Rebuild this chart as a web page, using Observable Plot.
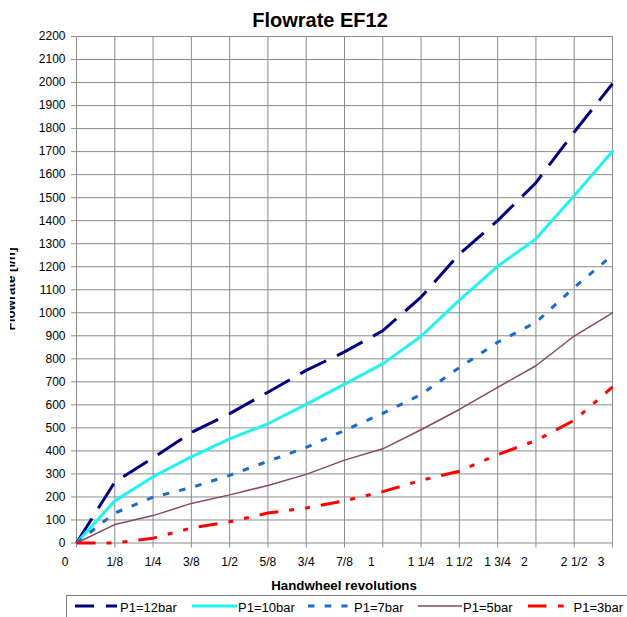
<!DOCTYPE html>
<html>
<head>
<meta charset="utf-8">
<script src="https://cdn.jsdelivr.net/npm/d3@7"></script>
<script src="https://cdn.jsdelivr.net/npm/@observablehq/plot@0.6"></script>
<style>
  html, body { margin: 0; padding: 0; background: #fff; }
  #chart { position: relative; width: 627px; height: 617px; overflow: hidden; font-family: "Liberation Sans", Arial, sans-serif; }
  #legend { display: block; }
</style>
</head>
<body>
<div id="chart"></div>
<script>
// ---- data ----
const xLabels = ["0", "1/8", "1/4", "3/8", "1/2", "5/8", "3/4", "7/8", "1", "1 1/4", "1 1/2", "1 3/4", "2", "2 1/2", "3"];
const yTicks = [0, 100, 200, 300, 400, 500, 600, 700, 800, 900, 1000, 1100, 1200, 1300, 1400, 1500, 1600, 1700, 1800, 1900, 2000, 2100, 2200];
const seriesNames = ["P1=12bar", "P1=10bar", "P1=7bar", "P1=5bar", "P1=3bar"];
const p12 = [0, 265, 370, 480, 562, 655, 750, 830, 922, 1068, 1255, 1400, 1565, 1785, 1995];
const p10 = [0, 183, 288, 374, 452, 518, 602, 690, 778, 898, 1055, 1202, 1321, 1508, 1702];
const p7  = [0, 130, 199, 241, 294, 355, 415, 489, 563, 645, 762, 872, 958, 1110, 1250];
const p5  = [0, 80, 119, 172, 209, 250, 298, 360, 409, 492, 580, 676, 770, 899, 1000];
const p3  = [0, 0, 21, 65, 92, 130, 152, 183, 223, 272, 312, 384, 445, 533, 678];

const seriesValues = [p12, p10, p7, p5, p3];
const styles = [
  {stroke: "#000080", strokeWidth: 3, strokeDasharray: "29,12", strokeLinecap: "butt", legendDash: "19,12"},
  {stroke: "#22f2f2", strokeWidth: 3, strokeDasharray: null, strokeLinecap: "round", legendDash: null},
  {stroke: "#1a6ccc", strokeWidth: 3, strokeDasharray: "6.5,10.2", strokeLinecap: "butt", legendDash: "6.5,10.2"},
  {stroke: "#8a4668", strokeWidth: 1.5, strokeDasharray: null, strokeLinecap: "round", legendDash: null},
  {stroke: "#ff0000", strokeWidth: 3, strokeDasharray: "19,11,5,11,5,11", strokeLinecap: "butt", legendDash: "18.5,11.5,5.7,20"}
];

const xIdx = xLabels.map((_, i) => i);
const wholeIdx = xIdx.filter(i => !xLabels[i].includes("/"));
const fracIdx = xIdx.filter(i => xLabels[i].includes("/"));
const gridColor = "#8c8c8c";

const lineMarks = seriesValues.map((vals, k) => Plot.line(xIdx, {
  x: i => i,
  y: i => vals[i],
  stroke: styles[k].stroke,
  strokeWidth: styles[k].strokeWidth,
  strokeDasharray: styles[k].strokeDasharray,
  strokeLinecap: styles[k].strokeLinecap,
  strokeLinejoin: "round"
}));

const plot = Plot.plot({
  width: 627,
  height: 595,
  marginLeft: 76,
  marginRight: 15,
  marginTop: 36,
  marginBottom: 52.5,
  style: {fontFamily: "'Liberation Sans', Arial, sans-serif", background: "#fff", color: "#000", overflow: "hidden"},
  x: {type: "linear", domain: [0, xLabels.length - 1], axis: null},
  y: {domain: [0, 2200], axis: null},
  marks: [
    Plot.ruleY(yTicks, {y: d => d, stroke: gridColor, strokeWidth: 1}),
    Plot.ruleX(xIdx, {x: d => d, stroke: gridColor, strokeWidth: 1}),
    Plot.axisY({ticks: yTicks, tickSize: 5, tickPadding: 6, tickFormat: d => String(d), fontSize: 12, stroke: gridColor, label: null}),
    Plot.axisX({ticks: xIdx, tickSize: 5, tickFormat: () => "", stroke: gridColor, label: null}),
    Plot.text(fracIdx, {x: d => d, text: d => xLabels[d], frameAnchor: "bottom", lineAnchor: "top", dy: 14.5, fontSize: 12, fill: "#000"}),
    Plot.text(wholeIdx, {x: d => d, text: d => xLabels[d], frameAnchor: "bottom", lineAnchor: "top", dy: 14.5, dx: -11.5, fontSize: 12, fill: "#000"}),
    ...lineMarks
  ]
});

const svg = d3.select(plot);
svg.append("text")
  .attr("x", 320).attr("y", 27)
  .attr("text-anchor", "middle")
  .attr("font-size", 20).attr("font-weight", "bold").attr("fill", "#000")
  .text("Flowrate EF12");
svg.append("text")
  .attr("x", 344).attr("y", 590)
  .attr("text-anchor", "middle")
  .attr("font-size", 13.3).attr("font-weight", "bold").attr("fill", "#000")
  .text("Handwheel revolutions");
const defs = svg.append("defs");
defs.append("clipPath").attr("id", "ylabclip")
  .append("rect").attr("x", 10).attr("y", 0).attr("width", 40).attr("height", 595);
svg.append("g").attr("clip-path", "url(#ylabclip)")
  .append("text")
  .attr("transform", "translate(15,289) rotate(-90)")
  .attr("text-anchor", "middle")
  .attr("font-size", 13.3).attr("font-weight", "bold").attr("fill", "#000")
  .text("Flowrate [l/h]");

const chart = document.getElementById("chart");
chart.appendChild(plot);

// ---- legend (below the plot SVG) ----
const legendSlots = [
  {x1: 75, x2: 117, tx: 120},
  {x1: 192, x2: 237, tx: 238},
  {x1: 308, x2: 347.5, tx: 354},
  {x1: 418, x2: 462, tx: 463},
  {x1: 528, x2: 564.5, tx: 573.5}
];
const leg = d3.select(chart).append("svg")
  .attr("id", "legend")
  .attr("width", 627).attr("height", 22)
  .style("font-family", "'Liberation Sans', Arial, sans-serif");
leg.append("rect")
  .attr("x", 66.5).attr("y", 0.5).attr("width", 620).attr("height", 40)
  .attr("fill", "#fff").attr("stroke", "#808080").attr("stroke-width", 1);
seriesNames.forEach((name, k) => {
  const s = legendSlots[k];
  leg.append("line")
    .attr("x1", s.x1).attr("x2", s.x2).attr("y1", 11).attr("y2", 11)
    .attr("stroke", styles[k].stroke)
    .attr("stroke-width", styles[k].strokeWidth)
    .attr("stroke-dasharray", styles[k].legendDash)
    .attr("stroke-linecap", "butt");
  leg.append("text")
    .attr("x", s.tx).attr("y", 16.5)
    .attr("font-size", 13).attr("fill", "#000")
    .text(name);
});
</script>
</body>
</html>
